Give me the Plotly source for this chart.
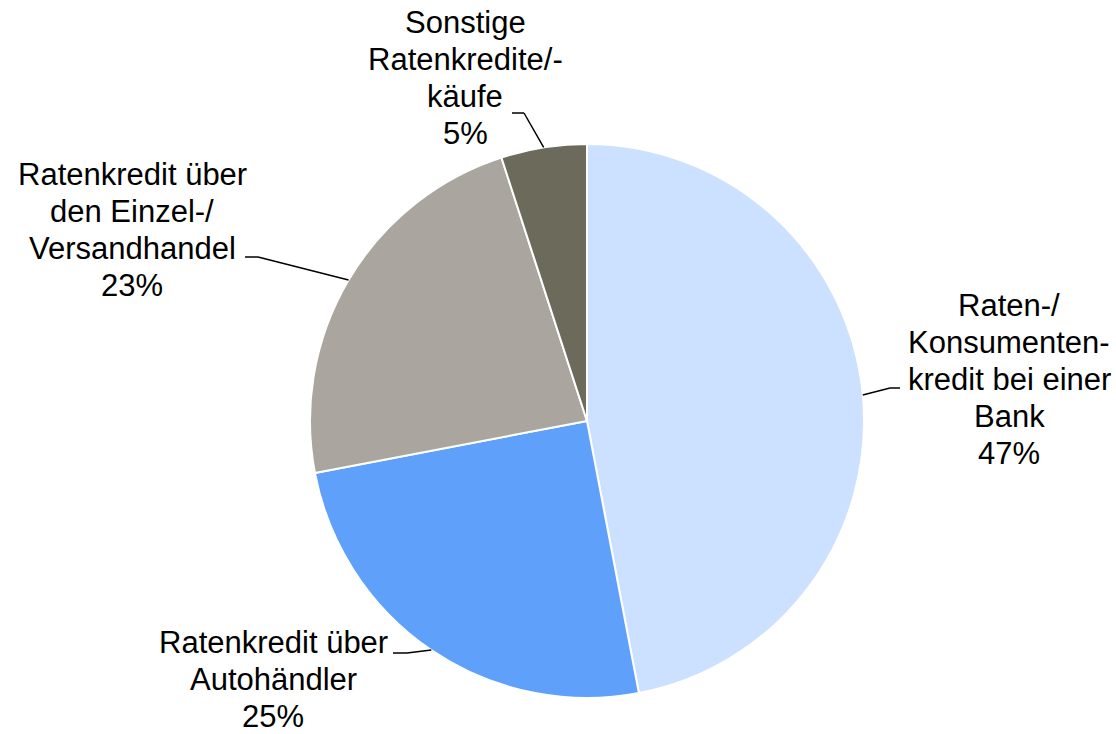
import math
import plotly.graph_objects as go

labels = ["Raten-/<br>Konsumenten-<br>kredit bei einer<br>Bank",
          "Ratenkredit über<br>Autohändler",
          "Ratenkredit über<br>den Einzel-/<br>Versandhandel",
          "Sonstige<br>Ratenkredite/-<br>käufe"]
values = [47, 25, 23, 5]
colors = ["#cce0ff", "#5fa0fb", "#aaa69f", "#6b6a5b"]

W, H = 1116, 734
CX, CY, R = 587, 421, 277
FONT = 31
LINE = 37

# label centre x and first baseline y (px); elbow / end of leader line (px)
label_pos = [(1009, 316), (273, 653), (132, 185), (465, 33)]
elbows = [((890, 388), (900, 388)), ((407, 653), (393, 653)),
          ((258, 257), (245, 257)), ((524, 113), (512, 113))]

fig = go.Figure(go.Pie(
    labels=labels, values=values, sort=False, direction="clockwise", rotation=0,
    marker=dict(colors=colors, line=dict(color="white", width=2)),
    textinfo="none", hoverinfo="label+percent", showlegend=False,
    domain=dict(x=[(CX - R) / W, (CX + R) / W], y=[(H - CY - R) / H, (H - CY + R) / H]),
))

def px(x, y):
    return x / W, 1 - y / H

total = sum(values)
cum = 0
shapes, annotations = [], []
for i, v in enumerate(values):
    mid = (cum + v / 2) / total * 2 * math.pi
    cum += v
    sx, sy = CX + R * math.sin(mid), CY - R * math.cos(mid)
    (ex, ey), (fx, fy) = elbows[i]
    pct = round(v / total * 100)
    for (a, b) in [((sx, sy), (ex, ey)), ((ex, ey), (fx, fy))]:
        x0, y0 = px(*a)
        x1, y1 = px(*b)
        shapes.append(dict(type="line", xref="paper", yref="paper", x0=x0, y0=y0, x1=x1, y1=y1,
                           line=dict(color="black", width=1.5)))
    lines = labels[i].split("<br>") + [f"{pct}%"]
    lx, by = label_pos[i]
    for k, t in enumerate(lines):
        ax, ay = px(lx, by + k * LINE - 0.35 * FONT)
        annotations.append(dict(text=t, x=ax, y=ay, xref="paper", yref="paper",
                                xanchor="center", yanchor="middle", showarrow=False,
                                font=dict(family="Liberation Sans, Arial", size=FONT, color="black")))

fig.update_layout(width=W, height=H, margin=dict(l=0, r=0, t=0, b=0),
                  paper_bgcolor="white", plot_bgcolor="white",
                  shapes=shapes, annotations=annotations)
fig.write_html("out.html", config={"displayModeBar": False},
               post_script="document.body.style.margin='0';document.body.style.overflow='hidden';")
